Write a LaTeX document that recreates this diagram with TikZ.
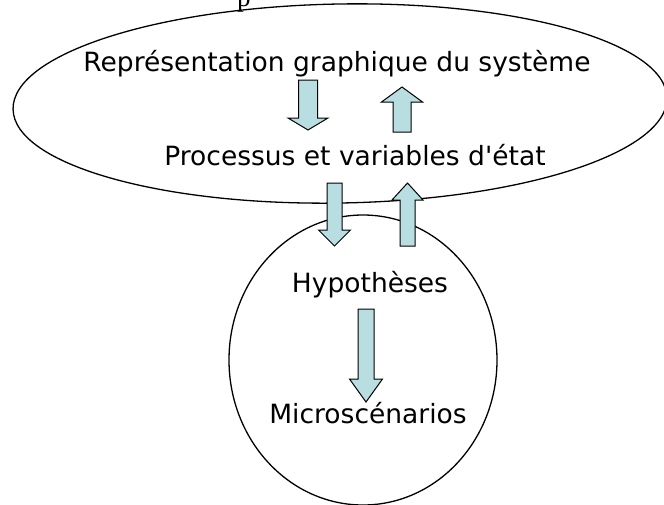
\documentclass[tikz,border=0pt]{standalone}
\usepackage{fontspec}
\setmainfont{DejaVu Sans}
\newfontfamily\titlefont{Liberation Serif}
\usepackage{tikz}
\usetikzlibrary{positioning}
\definecolor{arrowfill}{RGB}{185,222,225}

\begin{document}
\begin{tikzpicture}[x=1pt,y=-1pt,
		txt/.style={font=\fontsize{26.5}{30}\selectfont,inner sep=0pt,anchor=base},
		blockarr/.style={draw=black,line width=1pt,fill=arrowfill,line join=miter}]
			\useasboundingbox (0,0) rectangle (664,504);
			\node[anchor=base west,inner sep=0pt,font=\titlefont\fontsize{27}{30}\selectfont] (title) at (237,6) {p};
			\draw[line width=1.3pt,rotate around={1:(340,103.5)}] (340,103.5) ellipse [x radius=327pt,y radius=99.5pt];
			\draw[line width=1.3pt] (363,360) ellipse [x radius=134pt,y radius=145pt];
			\foreach \x/\a/\h/\b/\w/\W in {308/80/118/130/9.5/20,402/132/102/87/9/20.5,334.5/183/230/246/7.5/16,407.5/246/200/183/7.5/15.5,366/309/379/402/8/16.5}
				\filldraw[blockarr] (\x-\w,\a) -- (\x+\w,\a) -- (\x+\w,\h) -- (\x+\W,\h) -- (\x,\b) -- (\x-\W,\h) -- (\x-\w,\h) -- cycle;
			\node[txt] (repr) at (337,71) {Représentation graphique du système};
			\node[txt] (proc) at (355,165) {Processus et variables d\textquotesingle état};
			\node[txt] (hyp) at (370,292) {Hypothèses};
			\node[txt] (micro) at (368,423) {Microscénarios};
		\end{tikzpicture}
\end{document}
